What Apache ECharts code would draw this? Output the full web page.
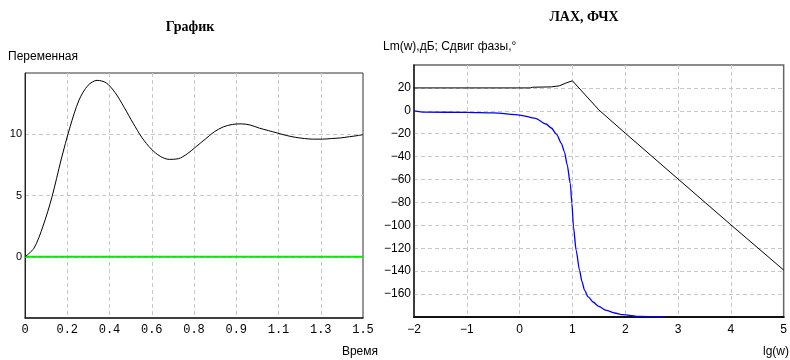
<!DOCTYPE html>
<html><head><meta charset="utf-8">
<script src="https://cdn.jsdelivr.net/npm/echarts@6/dist/echarts.min.js"></script>
<style>html,body{margin:0;padding:0;background:#fff}#c{width:790px;height:360px}</style>
</head><body><div id="c"></div>
<script>
// Left chart: step response
const respT = [0,0.04,0.08,0.12,0.16,0.20,0.24,0.28,0.32,0.36,0.40,0.44,0.48,0.52,0.56,0.60,0.64,0.68,0.72,0.76,0.80,0.84,0.88,0.92,0.96,1.00,1.04,1.08,1.12,1.16,1.20,1.24,1.28,1.32,1.36,1.40,1.44,1.48,1.50];
const respY = [0,0.7,2.5,4.9,7.9,10.6,12.8,14.0,14.4,14.2,13.4,12.2,10.9,9.7,8.8,8.2,7.95,8.0,8.4,9.0,9.6,10.2,10.6,10.8,10.85,10.75,10.5,10.3,10.1,9.9,9.75,9.65,9.6,9.6,9.65,9.7,9.8,9.9,9.97];
const zeroT = [0, 1.5];
const zeroY = [0, 0];
const leftXTickLabels = ['0','0.2','0.4','0.6','0.8','0.9','1.1','1.3','1.5'];
// Right chart: Bode (log magnitude & phase)
const magX = [-2,0.2,0.25,0.6,0.75,0.88,1.0,1.5,2,3,4,5];
const magY = [20,20,20.6,20.9,21.8,24.3,26.2,0.8,-19.5,-59.5,-99.5,-139];
const phX = [-2,-1.8,-1,-0.5,0,0.3,0.5,0.6,0.7,0.79,0.85,0.9,0.96,0.99,1.02,1.07,1.135,1.18,1.23,1.3,1.39,1.5,1.64,1.8,1.95,2.27,2.75];
const phY = [0,-1.2,-1.3,-1.8,-3.7,-6.6,-11.5,-15,-20.5,-28.4,-36,-47,-63.4,-80.9,-101.4,-121.7,-139.2,-149,-156.7,-162.5,-166.9,-170.8,-174.2,-176.5,-178,-179.5,-180];

const pairs = (xs, ys) => xs.map((x, i) => [x, ys[i]]);
const minus = v => String(v).replace('-', '\u2212');
const grid = {color:'#c8c8c8', type:[4,3], width:1};

const chart = echarts.init(document.getElementById('c'), null, {renderer:'canvas'});
chart.setOption({
  animation:false,
  backgroundColor:'#fff',
  grid:[
    {left:25, right:427, top:73, bottom:42, show:true, borderColor:'#333', borderWidth:1, backgroundColor:'transparent'},
    {left:414, right:6, top:65, bottom:43, show:true, borderColor:'#666', borderWidth:1.5, backgroundColor:'transparent'}
  ],
  xAxis:[
    {type:'value', gridIndex:0, min:0, max:1.5, interval:0.1875,
     axisLine:{show:true, onZero:false, lineStyle:{color:'#222', width:1.5}},
     axisTick:{show:false},
     axisLabel:{color:'#000', fontFamily:'Liberation Mono', fontSize:12, margin:6,
       formatter:v => leftXTickLabels[Math.round(v/0.1875)]},
     splitLine:{show:true, showMinLine:false, showMaxLine:false, lineStyle:grid}},
    {type:'value', gridIndex:1, min:-2, max:5, interval:1,
     axisLine:{show:true, onZero:false, lineStyle:{color:'#111', width:2}},
     axisTick:{show:false},
     axisLabel:{color:'#000', fontFamily:'Liberation Sans', fontSize:12, margin:7, formatter:minus},
     splitLine:{show:true, showMinLine:false, showMaxLine:false, lineStyle:grid}}
  ],
  yAxis:[
    {type:'value', gridIndex:0, min:-5, max:15, interval:5,
     axisLine:{show:true, onZero:false, lineStyle:{color:'#222', width:1}},
     axisTick:{show:false},
     axisLabel:{color:'#000', fontFamily:'Liberation Sans', fontSize:11, margin:3, showMinLabel:false, showMaxLabel:false},
     splitLine:{show:true, showMinLine:false, showMaxLine:false, lineStyle:grid}},
    {type:'value', gridIndex:1, min:-180, max:40, interval:20,
     axisLine:{show:true, onZero:false, lineStyle:{color:'#222', width:1.5}},
     axisTick:{show:false},
     axisLabel:{color:'#000', fontFamily:'Liberation Sans', fontSize:12, margin:3, showMinLabel:false, showMaxLabel:false, formatter:minus},
     splitLine:{show:true, showMinLine:false, showMaxLine:false, lineStyle:grid}}
  ],
  series:[
    {type:'line', xAxisIndex:0, yAxisIndex:0, data:pairs(zeroT, zeroY), showSymbol:false, lineStyle:{color:'#00ee00', width:2}, z:3},
    {type:'line', xAxisIndex:0, yAxisIndex:0, data:pairs(respT, respY), showSymbol:false, smooth:0.3, lineStyle:{color:'#000', width:1}, z:4},
    {type:'line', xAxisIndex:1, yAxisIndex:1, data:pairs(magX, magY), showSymbol:false, lineStyle:{color:'#000', width:1}, z:4},
    {type:'line', xAxisIndex:1, yAxisIndex:1, data:pairs(phX, phY), showSymbol:false, smooth:0.25, smoothMonotone:'x', lineStyle:{color:'#0000ff', width:1.3}, z:3}
  ],
  graphic:[
    {type:'text', x:190, y:27, style:{text:'График', font:'bold 14px "Liberation Serif"', fill:'#000', textAlign:'center', textVerticalAlign:'middle'}},
    {type:'text', x:584, y:17, style:{text:'ЛАХ, ФЧХ', font:'bold 14px "Liberation Serif"', fill:'#000', textAlign:'center', textVerticalAlign:'middle'}},
    {type:'text', x:8, y:57, style:{text:'Переменная', font:'12px "Liberation Sans"', fill:'#000', textAlign:'left', textVerticalAlign:'middle'}},
    {type:'text', x:383, y:47, style:{text:'Lm(w),дБ; Сдвиг фазы,°', font:'12px "Liberation Sans"', fill:'#000', textAlign:'left', textVerticalAlign:'middle'}},
    {type:'text', x:378, y:352, style:{text:'Время', font:'12px "Liberation Sans"', fill:'#000', textAlign:'right', textVerticalAlign:'middle'}},
    {type:'text', x:789, y:352, style:{text:'lg(w)', font:'12px "Liberation Sans"', fill:'#000', textAlign:'right', textVerticalAlign:'middle'}}
  ]
});
</script></body></html>
